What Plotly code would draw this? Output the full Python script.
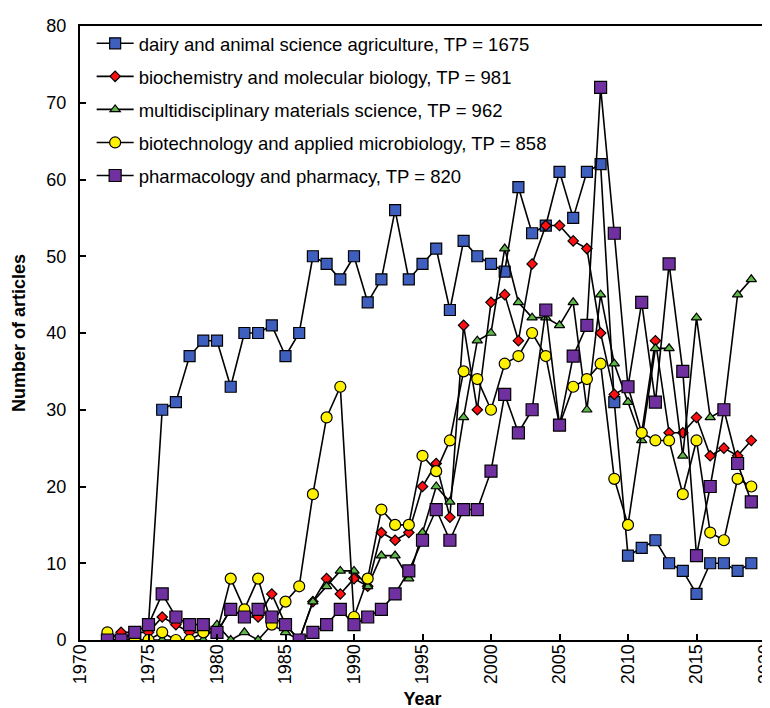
import plotly.graph_objects as go

years = list(range(1972, 2020))

dairy = [0, 0, 1, 2, 30, 31, 37, 39, 39, 33, 40, 40, 41, 37, 40, 50, 49, 47, 50, 44,
         47, 56, 47, 49, 51, 43, 52, 50, 49, 48, 59, 53, 54, 61, 55, 61, 62, 31, 11, 12,
         13, 10, 9, 6, 10, 10, 9, 10]
biochem = [0, 1, 1, 1, 3, 2, 1, 1, 1, 4, 3, 3, 6, 2, 0, 5, 8, 6, 8, 7,
           14, 13, 14, 20, 23, 16, 41, 30, 44, 45, 39, 49, 54, 54, 52, 51, 40, 32, 33, 27,
           39, 27, 27, 29, 24, 25, 24, 26]
materials = [0, 0, 0, 0, 0, 0, 0, 0, 2, 0, 1, 0, 2, 1, 0, 5, 7, 9, 9, 7,
             11, 11, 8, 14, 20, 18, 29, 39, 40, 51, 44, 42, 42, 41, 44, 30, 45, 36, 31, 26,
             38, 38, 24, 42, 29, 30, 45, 47]
biotech = [1, 0, 0, 0, 1, 0, 0, 1, 1, 8, 4, 8, 2, 5, 7, 19, 29, 33, 3, 8,
           17, 15, 15, 24, 22, 26, 35, 34, 30, 36, 37, 40, 37, 28, 33, 34, 36, 21, 15, 27,
           26, 26, 19, 26, 14, 13, 21, 20]
pharma = [0, 0, 1, 2, 6, 3, 2, 2, 1, 4, 3, 4, 3, 2, 0, 1, 2, 4, 2, 3,
          4, 6, 9, 13, 17, 13, 17, 17, 22, 32, 27, 30, 43, 28, 37, 41, 72, 53, 33, 44,
          31, 49, 35, 11, 20, 30, 23, 18]

names = [
    "dairy and animal science agriculture, TP = 1675",
    "biochemistry and molecular biology, TP = 981",
    "multidisciplinary materials science, TP = 962",
    "biotechnology and applied microbiology, TP = 858",
    "pharmacology and pharmacy, TP = 820",
]
series = [dairy, biochem, materials, biotech, pharma]
colors = ["#3F5FBF", "#FF1010", "#5DB847", "#FFF200", "#7030A0"]
symbols = ["square", "diamond", "triangle-up", "circle", "square"]
sizes = [11, 8, 9, 11, 12]

fig = go.Figure()
for i, (name, vals, col, sym, sz) in enumerate(zip(names, series, colors, symbols, sizes)):
    fig.add_trace(go.Scatter(
        x=years, y=vals, name=name, mode="lines+markers",
        legendgroup=f"g{i}",
        line=dict(color="black", width=1.6),
        marker=dict(symbol=sym, size=sz, color=col,
                    line=dict(color="black", width=1.2)),
    ))

font = "Liberation Sans, Arial, sans-serif"
fig.update_layout(
    width=770, height=708,
    margin=dict(l=72, r=13, t=18, b=76),
    plot_bgcolor="white", paper_bgcolor="white",
    font=dict(family=font, size=18, color="black"),
    showlegend=True,
    legend=dict(x=0.017, y=1.002, xanchor="left", yanchor="top",
                bgcolor="rgba(0,0,0,0)", font=dict(size=18.5, color="black"),
                traceorder="grouped", tracegroupgap=6, itemwidth=37),
    xaxis=dict(range=[1970, 2020], dtick=5, tick0=1970, tickangle=-90,
               showline=True, linecolor="black", linewidth=2, mirror=True,
               ticks="inside", ticklen=6, tickcolor="black", tickwidth=1.5,
               ticklabelstandoff=-5, ticklabeloverflow="allow", automargin=False,
               showgrid=False, zeroline=False,
               title=dict(text="<b>Year</b>", font=dict(size=18), standoff=9)),
    yaxis=dict(range=[0, 80], dtick=10,
               showline=True, linecolor="black", linewidth=2, mirror=True,
               ticks="inside", ticklen=6, tickcolor="black", tickwidth=1.5,
               ticklabelstandoff=8, automargin=False,
               showgrid=False, zeroline=False,
               title=dict(text="<b>Number of articles</b>", font=dict(size=18), standoff=16)),
)

fig.write_html("out.html")
